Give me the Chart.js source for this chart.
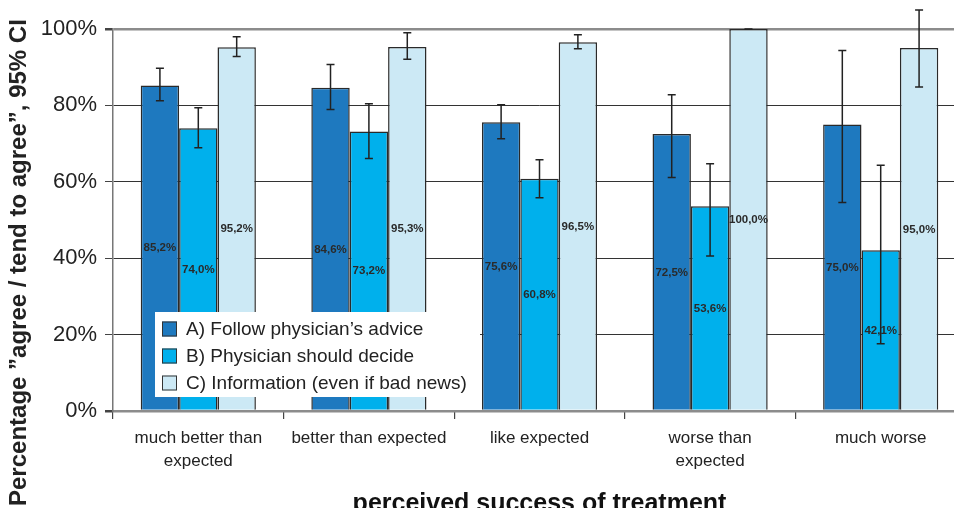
<!DOCTYPE html>
<html>
<head>
<meta charset="utf-8">
<script src="https://cdn.jsdelivr.net/npm/chart.js@4"></script>
<style>
  html, body { margin: 0; padding: 0; background: #fff; overflow: hidden; }
  #wrap { width: 954px; height: 508px; overflow: hidden; position: relative; }
  canvas { display: block; }
</style>
</head>
<body>
<div id="wrap"><canvas id="c" width="990" height="508"></canvas></div>
<script>
// ---- data ----
const categories = [["much better than", "expected"], "better than expected", "like expected", ["worse than", "expected"], "much worse"];
const seriesNames = ["A) Follow physician\u2019s advice", "B) Physician should decide", "C) Information (even if bad news)"];
const followAdvice   = [85.2, 84.6, 75.6, 72.5, 75.0];
const physicianDecide = [74.0, 73.2, 60.8, 53.6, 42.1];
const information    = [95.2, 95.3, 96.5, 100.0, 95.0];
const followLow  = [81.2, 78.9, 71.3, 61.1, 54.6];
const followHigh = [89.7, 90.7, 80.2, 82.8, 94.4];
const decideLow  = [68.9, 66.1, 55.8, 40.6, 17.6];
const decideHigh = [79.4, 80.4, 65.8, 64.7, 64.3];
const infoLow    = [92.8, 92.1, 94.8, 100.0, 84.8];
const infoHigh   = [98.0, 99.0, 98.5, 100.0, 105.0];
const yTicks = [0, 20, 40, 60, 80, 100];
const yTitle = "Percentage \u201dagree / tend to agree\u201d, 95% CI";
const xTitle = "perceived success of treatment";

const colors = ["#1e79bf", "#00b0ec", "#cce9f5"];
const lows = [followLow, decideLow, infoLow];
const highs = [followHigh, decideHigh, infoHigh];

const FONT = "'Liberation Sans', Arial, sans-serif";

const overlayPlugin = {
  id: 'overlay',
  afterDatasetsDraw(chart) {
    const ctx = chart.ctx;
    const y = chart.scales.y;
    ctx.save();
    // error bars
    chart.data.datasets.forEach((ds, di) => {
      const meta = chart.getDatasetMeta(di);
      meta.data.forEach((bar, i) => {
        const x = bar.x;
        const yl = y.getPixelForValue(lows[di][i]);
        const yh = y.getPixelForValue(highs[di][i]);
        ctx.strokeStyle = '#222';
        ctx.lineWidth = 1.5;
        ctx.beginPath();
        ctx.moveTo(x, yl); ctx.lineTo(x, yh);
        ctx.moveTo(x - 4, yl); ctx.lineTo(x + 4, yl);
        ctx.moveTo(x - 4, yh); ctx.lineTo(x + 4, yh);
        ctx.stroke();
      });
    });
    // value labels
    ctx.fillStyle = '#2a2a2a';
    ctx.font = "bold 11.5px " + FONT;
    ctx.textAlign = 'center';
    ctx.textBaseline = 'middle';
    chart.data.datasets.forEach((ds, di) => {
      const meta = chart.getDatasetMeta(di);
      meta.data.forEach((bar, i) => {
        const v = ds.data[i];
        const py = y.getPixelForValue(v / 2);
        ctx.fillText(v.toFixed(1).replace('.', ',') + '%', bar.x, py);
      });
    });
    ctx.restore();
  },
  afterDraw(chart) {
    const ctx = chart.ctx;
    ctx.save();
    // legend box
    const lx = 155, ly = 312, lw = 325, lh = 85;
    ctx.fillStyle = '#fff';
    ctx.fillRect(lx, ly, lw, lh);
    ctx.font = "19px " + FONT;
    ctx.textAlign = 'left';
    ctx.textBaseline = 'middle';
    chart.data.datasets.forEach((ds, i) => {
      const cy = 329 + i * 27;
      ctx.fillStyle = ds.backgroundColor;
      ctx.fillRect(162, cy - 7.5, 15, 15);
      ctx.strokeStyle = '#333';
      ctx.lineWidth = 1;
      ctx.strokeRect(162.5, cy - 7, 14, 14);
      ctx.fillStyle = '#222';
      ctx.fillText(ds.label, 186, cy + 1);
    });
    // y axis title
    ctx.translate(25.5, 506);
    ctx.rotate(-Math.PI / 2);
    ctx.font = "bold 24px " + FONT;
    ctx.fillStyle = '#222';
    ctx.textAlign = 'left';
    ctx.textBaseline = 'alphabetic';
    ctx.fillText(yTitle, 0, 0);
    ctx.restore();
  }
};

const datasets = [followAdvice, physicianDecide, information].map((d, i) => ({
  label: seriesNames[i],
  data: d,
  backgroundColor: colors[i],
  borderColor: '#2a2a2a',
  borderWidth: 1.5,
  categoryPercentage: 0.675,
  barPercentage: 1.0
}));

new Chart(document.getElementById('c'), {
  type: 'bar',
  data: { labels: categories, datasets },
  options: {
    responsive: false,
    animation: false,
    devicePixelRatio: 1,
    layout: { padding: { left: 0, top: 29, right: 24, bottom: 0 } },
    plugins: { legend: { display: false }, tooltip: { enabled: false } },
    scales: {
      x: {
        offset: true,
        grid: { display: true, drawOnChartArea: false, drawTicks: true, tickLength: 8, offset: true, color: '#444', lineWidth: 1.2 },
        border: { display: true, color: '#8c8c8c', width: 2 },
        ticks: { color: '#222', font: { family: FONT, size: 17, lineHeight: 1.35 }, padding: 7.5, maxRotation: 0, autoSkip: false },
        title: { display: true, text: xTitle, color: '#111', font: { family: FONT, size: 25, weight: 'bold', lineHeight: 0.3 }, padding: 0 },
        afterFit(s) { s.height = 97; }
      },
      y: {
        min: 0, max: 100,
        afterBuildTicks(s) { s.ticks = yTicks.map(v => ({ value: v })); },
        grid: {
          drawTicks: true, tickLength: 8,
          color: c => (c.tick && (c.tick.value === 100 || c.tick.value === 0)) ? '#8c8c8c' : '#333',
          lineWidth: c => (c.tick && (c.tick.value === 100 || c.tick.value === 0)) ? 2.5 : 1,
          tickColor: '#444'
        },
        border: { display: true, color: '#777', width: 1.5 },
        ticks: { color: '#222', font: { family: FONT, size: 22 }, padding: 8, callback: v => v + '%' },
        afterFit(s) { s.width = 113; }
      }
    }
  },
  plugins: [overlayPlugin]
});
</script>
</body>
</html>
